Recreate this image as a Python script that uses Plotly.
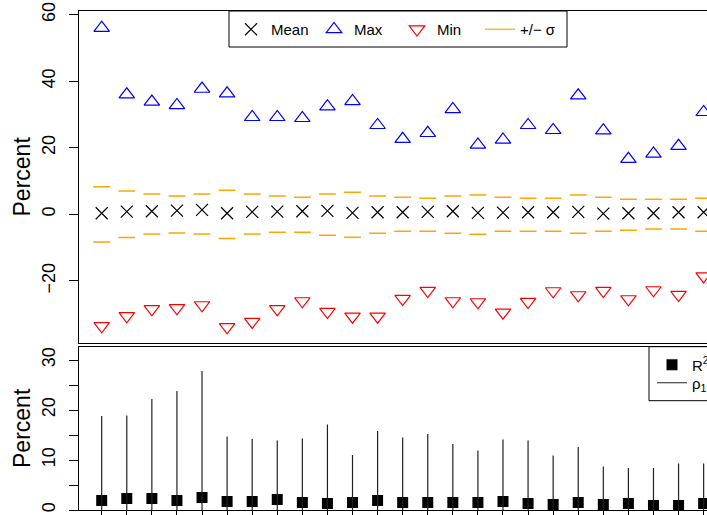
import plotly.graph_objects as go

# ---- data ----
periods = list(range(1, 26))
mean_vals = [0.3, 0.8, 0.9, 1.1, 1.3, 0.3, 0.7, 0.8, 0.9, 1.0, 0.4, 0.6, 0.6, 0.7, 0.9,
             0.4, 0.5, 0.6, 0.6, 0.7, 0.2, 0.3, 0.3, 0.6, 0.6]
max_vals = [56.0, 36.0, 33.8, 32.8, 37.7, 36.3, 29.2, 29.2, 28.9, 32.4, 34.0, 26.8, 22.6,
            24.4, 31.6, 20.9, 22.4, 26.8, 25.3, 35.7, 25.2, 16.6, 18.2, 20.5, 30.7]
min_vals = [-33.6, -30.6, -28.5, -28.2, -27.3, -33.9, -32.3, -28.5, -26.1, -29.3, -30.7,
            -30.7, -25.4, -23.0, -26.1, -26.4, -29.5, -26.3, -23.1, -24.3, -23.0, -25.5,
            -22.8, -24.2, -18.6]
upper_sigma = [8.3, 7.0, 6.1, 5.5, 6.1, 7.2, 6.1, 5.5, 5.1, 6.1, 6.6, 5.5, 5.1, 4.8, 5.5,
               5.8, 5.1, 4.8, 4.8, 5.8, 5.1, 4.5, 4.5, 4.5, 4.8]
lower_sigma = [-8.3, -7.0, -5.9, -5.6, -5.9, -7.3, -5.9, -5.4, -5.4, -6.3, -6.9, -5.7, -5.1,
               -5.1, -5.7, -6.0, -5.1, -5.1, -5.1, -5.7, -5.1, -4.8, -4.4, -4.4, -5.1]
r2_vals = [1.9, 2.3, 2.3, 1.9, 2.5, 1.7, 1.7, 2.1, 1.5, 1.3, 1.5, 1.9, 1.5, 1.5, 1.5,
           1.5, 1.7, 1.3, 1.1, 1.5, 1.1, 1.3, 0.9, 0.9, 1.3]
rho_vals = [18.8, 18.9, 22.2, 23.8, 27.8, 14.7, 14.2, 13.9, 14.3, 17.1, 11.0, 15.8, 14.5,
            15.2, 13.2, 11.9, 14.1, 13.9, 10.9, 12.6, 8.7, 8.4, 8.4, 9.3, 9.3]
top_ticks = [-20, 0, 20, 40, 60]
bottom_ticks = [0, 10, 20, 30]
bottom_minor_ticks = [5, 15, 25]

FONT = "Liberation Sans, Arial, Helvetica, sans-serif"

fig = go.Figure()

# top panel
fig.add_trace(go.Scatter(x=periods, y=mean_vals, mode="markers", name="Mean",
                         marker=dict(symbol="x-thin", size=12, color="black",
                                     line=dict(color="black", width=1.2)),
                         xaxis="x", yaxis="y"))
fig.add_trace(go.Scatter(x=periods, y=max_vals, mode="markers", name="Max",
                         marker=dict(symbol="triangle-up-open", size=13.5, color="#0000FF",
                                     line=dict(color="#0000FF", width=1.2)),
                         xaxis="x", yaxis="y"))
fig.add_trace(go.Scatter(x=periods, y=min_vals, mode="markers", name="Min",
                         marker=dict(symbol="triangle-down-open", size=13.5, color="#FF0000",
                                     line=dict(color="#FF0000", width=1.2)),
                         xaxis="x", yaxis="y"))
for vals in (upper_sigma, lower_sigma):
    fig.add_trace(go.Scatter(x=periods, y=vals, mode="markers", showlegend=False,
                             marker=dict(symbol="line-ew", size=12, color="#FFA500",
                                         line=dict(color="#FFA500", width=1.5)),
                             xaxis="x", yaxis="y"))
fig.add_trace(go.Scatter(x=[None], y=[None], mode="lines", name="+/\u2212 \u03c3",
                         line=dict(color="#FFA500", width=1.2), xaxis="x", yaxis="y"))

# bottom panel
rho_x, rho_y = [], []
for p, v in zip(periods, rho_vals):
    rho_x += [p, p, None]
    rho_y += [0, v, None]
fig.add_trace(go.Scatter(x=periods, y=r2_vals, mode="markers", name="R<sup>2</sup>",
                         marker=dict(symbol="square", size=11, color="black"),
                         xaxis="x2", yaxis="y2", legend="legend2"))
fig.add_trace(go.Scatter(x=rho_x, y=rho_y, mode="lines", name="\u03c1<sub>1</sub>",
                         line=dict(color="#222222", width=1.2),
                         xaxis="x2", yaxis="y2", legend="legend3"))

L = 79
W = 707
H = 510  # plot-area height (figure height 515, bottom margin 5)
PW = W - L


def px(xref):
    return (xref - L) / PW


def py(yref):
    return (H - yref) / H


xrange_ = [0.095, 25.134]
axis_common = dict(showgrid=False, zeroline=False, showline=True, linecolor="black",
                   linewidth=1)

fig.update_layout(
    width=707, height=515,
    margin=dict(l=L, r=0, t=0, b=515 - H, autoexpand=False),
    plot_bgcolor="white", paper_bgcolor="white",
    font=dict(family=FONT, color="black"),
    hovermode=False,
    xaxis=dict(**axis_common, range=xrange_, domain=[0, 1], anchor="y", mirror=True,
               showticklabels=False, ticks=""),
    yaxis=dict(**axis_common, range=[-38.6, 61.1], domain=[py(342.7), py(11)], anchor="x",
               tickvals=top_ticks, ticks="outside", ticklen=9, tickcolor="black",
               tickangle=-90, tickfont=dict(size=18), ticklabelstandoff=7,
               ticklabeloverflow="allow",
               title=dict(text="Percent", font=dict(size=23), standoff=1)),
    xaxis2=dict(**axis_common, range=xrange_, domain=[0, 1], anchor="y2", mirror=True,
                showticklabels=False, ticks="outside", ticklen=7, tickcolor="black",
                tickvals=periods),
    yaxis2=dict(**axis_common, range=[0, 32.66], domain=[py(510), py(346.7)], anchor="x2",
                tickvals=bottom_ticks, ticks="outside",
                ticklen=9, tickcolor="black", tickangle=-90, tickfont=dict(size=18),
                ticklabelstandoff=7, ticklabeloverflow="allow",
                minor=dict(tickvals=bottom_minor_ticks, ticks="outside", ticklen=9,
                           tickcolor="black"),
                title=dict(text="Percent", font=dict(size=23), standoff=1)),
    legend=dict(orientation="h", x=px(231), xanchor="left", y=py(29.5), yanchor="middle",
                bgcolor="rgba(0,0,0,0)", borderwidth=0, font=dict(size=15),
                entrywidth=38, entrywidthmode="pixels"),
    legend2=dict(orientation="v", x=px(652), xanchor="left", y=py(365), yanchor="middle",
                 bgcolor="rgba(0,0,0,0)", borderwidth=0, font=dict(size=15)),
    legend3=dict(orientation="v", x=px(652), xanchor="left", y=py(383), yanchor="middle",
                 bgcolor="rgba(0,0,0,0)", borderwidth=0, font=dict(size=15)),
    shapes=[
        dict(type="rect", xref="paper", yref="paper", x0=px(229), x1=px(567),
             y0=py(47), y1=py(11), line=dict(color="black", width=1),
             fillcolor="white", layer="below"),
        dict(type="rect", xref="paper", yref="paper", x0=px(649), x1=1.2,
             y0=py(400.7), y1=py(346.7), line=dict(color="black", width=1),
             fillcolor="white", layer="below"),
    ],
)

fig.write_html(
    "out.html",
    config={"displayModeBar": False},
    post_script="document.body.style.margin='0';document.body.style.overflow='hidden';",
)
